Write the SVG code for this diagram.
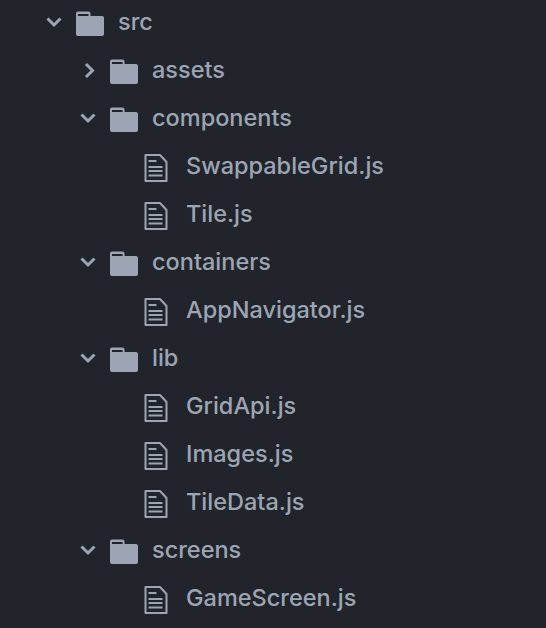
<svg xmlns="http://www.w3.org/2000/svg" width="546" height="628" viewBox="0 0 546 628">
<style>
text{font-family:"Inter","Liberation Sans",sans-serif;font-size:23.5px;font-weight:500;fill:#9da5b4}
.c{fill:none;stroke:#9da5b4;stroke-width:3}
.f{fill:none;stroke:#9da5b4;stroke-width:2;stroke-linejoin:round}
.l{stroke:#9da5b4;stroke-width:2}
</style>
<defs>
<path id="folder" d="M0 3.500a2 2 0 0 1 2-2h10.500a2 2 0 0 1 2 2V6h11.500a2 2 0 0 1 2 2v16a2 2 0 0 1-2 2H2a2 2 0 0 1-2-2V3.500ZM2 4v2h10.500V4Z" fill="#9da5b4" fill-rule="evenodd"/>
<path id="down" class="c" d="M0 0l6.500 6.500L13 0"/>
<path id="right" class="c" d="M0 0l6.500 6.500L0 13"/>
<g id="file">
<path class="f" d="M1.500 2H16l6.500 7v19H1.500Z"/>
<path class="l" d="M4.500 8h8M4.500 14h14M4.500 18h14M4.500 22.500h14"/>
</g>
</defs>
<rect width="546" height="628" fill="#21252b"/>
<g id="node-src"><use href="#down" x="47.500" y="18.500"/><use href="#folder" x="76" y="10"/><text x="118" y="30">src</text></g>
<g id="node-assets"><use href="#right" x="86" y="64"/><use href="#folder" x="110" y="58"/><text x="152" y="78">assets</text></g>
<g id="node-components"><use href="#down" x="81.500" y="114.500"/><use href="#folder" x="110" y="106"/><text x="152" y="126">components</text></g>
<g id="node-swappablegrid"><use href="#file" x="144" y="153"/><text x="186" y="174">SwappableGrid.js</text></g>
<g id="node-tile"><use href="#file" x="144" y="201"/><text x="186" y="222">Tile.js</text></g>
<g id="node-containers"><use href="#down" x="81.500" y="258.500"/><use href="#folder" x="110" y="250"/><text x="152" y="270">containers</text></g>
<g id="node-appnavigator"><use href="#file" x="144" y="297"/><text x="186" y="318">AppNavigator.js</text></g>
<g id="node-lib"><use href="#down" x="81.500" y="354.500"/><use href="#folder" x="110" y="346"/><text x="152" y="366">lib</text></g>
<g id="node-gridapi"><use href="#file" x="144" y="393"/><text x="186" y="414">GridApi.js</text></g>
<g id="node-images"><use href="#file" x="144" y="441"/><text x="186" y="462">Images.js</text></g>
<g id="node-tiledata"><use href="#file" x="144" y="489"/><text x="186" y="510">TileData.js</text></g>
<g id="node-screens"><use href="#down" x="81.500" y="546.500"/><use href="#folder" x="110" y="538"/><text x="152" y="558">screens</text></g>
<g id="node-gamescreen"><use href="#file" x="144" y="585"/><text x="186" y="606">GameScreen.js</text></g>
<g id="connectors"></g>
</svg>
